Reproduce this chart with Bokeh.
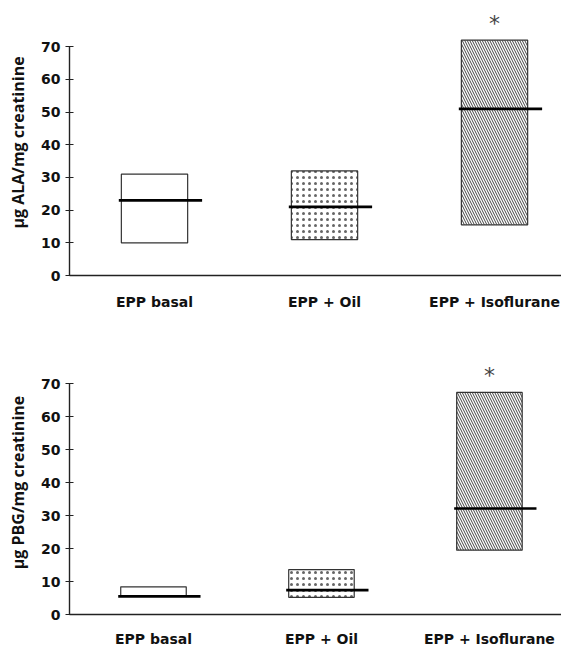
from bokeh.plotting import figure
from bokeh.models import Range1d, FixedTicker, ColumnDataSource
from bokeh.layouts import column
from bokeh.embed import file_html
from bokeh.resources import INLINE
from bokeh.core.properties import value

# ---- data ----
categories = ["EPP basal", "EPP + Oil", "EPP + Isoflurane"]
ala_low = [10.0, 11.0, 15.5]
ala_high = [31.0, 32.0, 72.0]
ala_median = [23.0, 21.0, 51.0]
pbg_low = [5.5, 5.2, 19.5]
pbg_high = [8.4, 13.6, 67.3]
pbg_median = [5.5, 7.4, 32.1]
significant = [False, False, True]
y_ticks = [0, 10, 20, 30, 40, 50, 60, 70]
hatches = [" ", ".", "\\"]
hatch_colors = ["#444444", "#666666", "#444444"]
hatch_scales = [5, 6, 5]

FONT = "DejaVu Sans"


def make_panel(low, high, median, ylabel, height, b_top, b_bottom, b_left,
               y_end, x_end, xlab_standoff):
    pos = [i + 0.5 for i in range(len(categories))]
    p = figure(width=561, height=height, output_backend="svg",
               toolbar_location=None, min_border_top=b_top,
               min_border_bottom=b_bottom, min_border_left=b_left,
               min_border_right=0, x_range=Range1d(0, x_end),
               y_range=Range1d(0, y_end))
    p.grid.visible = False
    p.outline_line_color = None
    p.background_fill_color = "white"
    p.border_fill_color = "white"

    src = ColumnDataSource(dict(x=pos, low=low, high=high, med=median,
                                hatch=hatches, hcol=hatch_colors,
                                hscale=hatch_scales,
                                mx0=[x - 0.21 for x in pos],
                                mx1=[x + 0.28 for x in pos]))
    p.vbar(x="x", bottom="low", top="high", width=0.39, source=src,
           fill_color="white", line_color="#333333", line_width=1.2,
           hatch_pattern="hatch", hatch_color="hcol", hatch_scale="hscale",
           hatch_weight=1)
    p.segment(x0="mx0", x1="mx1", y0="med", y1="med", source=src,
              line_color="black", line_width=2.6)

    sx = [x for x, s in zip(pos, significant) if s]
    sy = [h + 5.0 for h, s in zip(high, significant) if s]
    p.text(x=sx, y=sy, text=["*"] * len(sx), text_align="center",
           text_baseline="alphabetic", text_font=value(FONT),
           text_font_size="22px", text_color="#444444")

    xa = p.xaxis[0]
    xa.ticker = FixedTicker(ticks=pos)
    xa.major_label_overrides = {x: c for x, c in zip(pos, categories)}
    xa.major_tick_line_color = None
    xa.minor_tick_line_color = None
    xa.major_tick_in = 0
    xa.major_tick_out = 0
    xa.axis_line_color = "#222222"
    xa.axis_line_width = 1.4
    xa.major_label_text_font = FONT
    xa.major_label_text_font_style = "bold"
    xa.major_label_text_font_size = "14px"
    xa.major_label_text_color = "#111111"
    xa.major_label_standoff = xlab_standoff

    ya = p.yaxis[0]
    ya.ticker = FixedTicker(ticks=y_ticks)
    ya.bounds = (0, 70)
    ya.minor_tick_line_color = None
    ya.major_tick_in = 4
    ya.major_tick_out = 4
    ya.major_tick_line_color = "#222222"
    ya.major_tick_line_width = 1.2
    ya.axis_line_color = "#222222"
    ya.axis_line_width = 1.4
    ya.major_label_text_font = FONT
    ya.major_label_text_font_style = "bold"
    ya.major_label_text_font_size = "14px"
    ya.major_label_text_color = "#111111"
    ya.major_label_standoff = 5
    ya.axis_label = ylabel
    ya.axis_label_text_font = "Open Sans"
    ya.axis_label_text_font_style = "bold"
    ya.axis_label_text_font_size = "16px"
    ya.axis_label_text_color = "#111111"
    ya.axis_label_standoff = 9
    return p


top = make_panel(ala_low, ala_high, ala_median, "µg ALA/mg creatinine",
                 317, 9, 42, 69, 81.4, 2.894, 18)
bottom = make_panel(pbg_low, pbg_high, pbg_median, "µg PBG/mg creatinine",
                    332, 33, 35, 66, 80.0, 2.929, 16)

layout = column(top, bottom, spacing=0)
open("out.html", "w").write(file_html(layout, INLINE))
